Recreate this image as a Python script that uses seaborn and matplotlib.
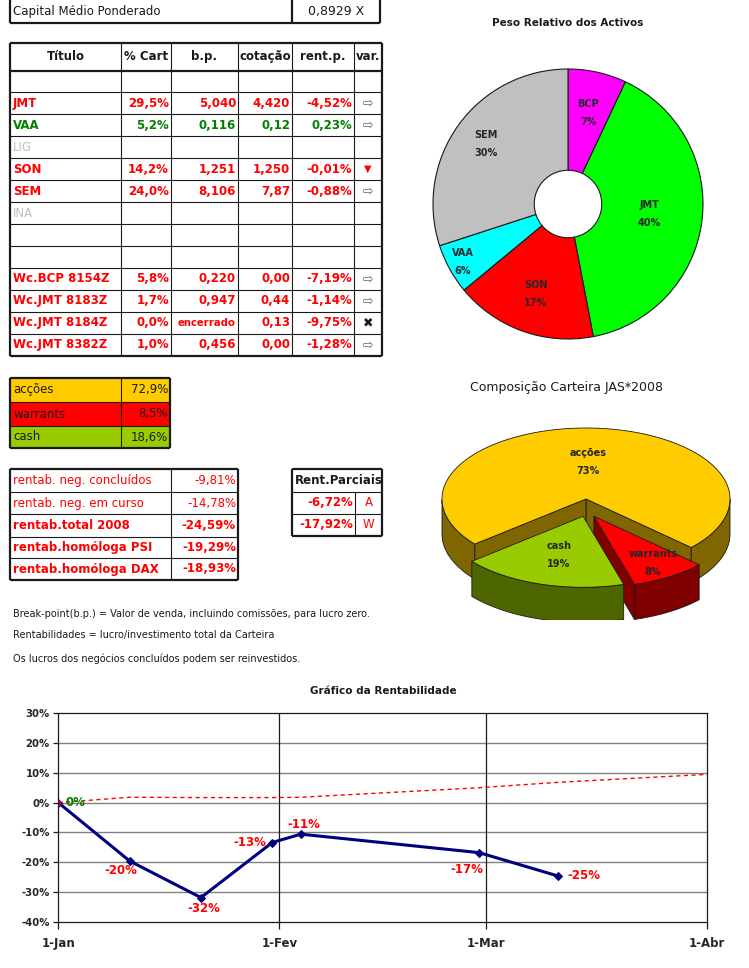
import numpy as np
import pandas as pd
import matplotlib
matplotlib.use("Agg")
import matplotlib.pyplot as plt
from matplotlib.patches import Polygon, Rectangle
import seaborn as sns

# ---- dados da carteira ----
capital_label = "Capital Médio Ponderado"
capital_valor = "0,8929 X"

cabecalho = ["Título", "% Cart", "b.p.", "cotação", "rent.p.", "var."]
titulos = ["", "JMT", "VAA", "LIG", "SON", "SEM", "INA", "", "",
           "Wc.BCP 8154Z", "Wc.JMT 8183Z", "Wc.JMT 8184Z", "Wc.JMT 8382Z"]
pct_cart = ["", "29,5%", "5,2%", "", "14,2%", "24,0%", "", "", "",
            "5,8%", "1,7%", "0,0%", "1,0%"]
break_point = ["", "5,040", "0,116", "", "1,251", "8,106", "", "", "",
               "0,220", "0,947", "encerrado", "0,456"]
cotacao = ["", "4,420", "0,12", "", "1,250", "7,87", "", "", "",
           "0,00", "0,44", "0,13", "0,00"]
rent_p = ["", "-4,52%", "0,23%", "", "-0,01%", "-0,88%", "", "", "",
          "-7,19%", "-1,14%", "-9,75%", "-1,28%"]
variacao = ["", "dir", "dir", "", "desce", "dir", "", "", "",
            "dir", "dir", "fechado", "dir"]
estado = ["", "neg", "pos", "inactivo", "neg", "neg", "inactivo", "", "",
          "neg", "neg", "neg", "neg"]

alocacao_nomes = ["acções", "warrants", "cash"]
alocacao_pct = [72.9, 8.5, 18.6]
alocacao_txt = ["72,9%", "8,5%", "18,6%"]

rentab_nomes = ["rentab. neg. concluídos", "rentab. neg. em curso",
                "rentab.total 2008", "rentab.homóloga PSI", "rentab.homóloga DAX"]
rentab_valores = ["-9,81%", "-14,78%", "-24,59%", "-19,29%", "-18,93%"]
rentab_negrito = [False, False, True, True, True]

parciais_valores = ["-6,72%", "-17,92%"]
parciais_tipo = ["A", "W"]

notas = ["Break-point(b.p.) = Valor de venda, incluindo comissões, para lucro zero.",
         "Rentabilidades = lucro/investimento total da Carteira",
         "Os lucros dos negócios concluídos podem ser reinvestidos."]

activos = ["BCP", "JMT", "SON", "VAA", "SEM"]
activos_peso = [7, 40, 17, 6, 30]

datas = pd.to_datetime(["2008-01-01", "2008-01-11", "2008-01-21", "2008-01-31",
                        "2008-02-04", "2008-02-29", "2008-03-11"])
rentabilidade = [0.0, -0.196, -0.319, -0.134, -0.106, -0.168, -0.246]
datas_ref = pd.to_datetime(["2008-01-01", "2008-01-11", "2008-01-21", "2008-01-31",
                            "2008-02-04", "2008-02-29", "2008-03-11", "2008-04-01"])
referencia = [0.0, 0.018, 0.017, 0.017, 0.018, 0.050, 0.068, 0.095]
meses = pd.to_datetime(["2008-01-01", "2008-02-01", "2008-03-01", "2008-04-01"])
meses_txt = ["1-Jan", "1-Fev", "1-Mar", "1-Abr"]
escala_y = [-0.4, -0.3, -0.2, -0.1, 0.0, 0.1, 0.2, 0.3]

# ---- cores ----
VERMELHO = "#FF0000"
VERDE = "#008000"
CINZA = "#C0C0C0"
cores_estado = {"neg": VERMELHO, "pos": VERDE, "inactivo": CINZA, "": "k"}
cores_alocacao = ["#FFCC00", "#FF0000", "#99CC00"]
lados_alocacao = ["#806600", "#800000", "#4D6600"]
cores_activos = ["#FF00FF", "#00FF00", "#FF0000", "#00FFFF", "#C0C0C0"]

sns.set_theme(style="white")
plt.rcParams["font.family"] = ["DejaVu Sans"]

W, H = 749, 968
fig = plt.figure(figsize=(W / 100, H / 100), dpi=100)


def px_axes(left, top, width, height):
    return fig.add_axes([left / W, 1 - (top + height) / H, width / W, height / H])


# camada de tabelas em coordenadas de pixel
tab = fig.add_axes([0, 0, 1, 1])
tab.set_xlim(0, W)
tab.set_ylim(H, 0)
tab.axis("off")

FINO, GROSSO = 0.8, 1.6


def grelha(xs, ys, grossas_h=(), grossas_v=()):
    for i, y in enumerate(ys):
        lw = GROSSO if i in (0, len(ys) - 1) or i in grossas_h else FINO
        tab.hlines(y, xs[0], xs[-1], color="k", lw=lw)
    for j, x in enumerate(xs):
        lw = GROSSO if j in (0, len(xs) - 1) or j in grossas_v else FINO
        tab.vlines(x, ys[0], ys[-1], color="k", lw=lw)


def texto(x, y, s, ha="left", size=8.5, bold=False, color="k", **kw):
    tab.text(x, y, s, ha=ha, va="center", fontsize=size,
             fontweight="bold" if bold else "normal", color=color, **kw)


# capital médio ponderado
tab.hlines(23, 10, 380, color="k", lw=GROSSO)
tab.vlines([10, 292, 380], 0, 23, color="k", lw=GROSSO)
texto(13, 11.5, capital_label, size=8.5)
texto(336, 11.5, capital_valor, ha="center", size=9)

# tabela principal
col_x = [10, 121, 171, 238, 292, 354, 382]
lin_y = [43] + list(np.linspace(70.5, 355.7, len(titulos) + 1))
grelha(col_x, lin_y, grossas_h=(1,))
for j, h in enumerate(cabecalho):
    texto((col_x[j] + col_x[j + 1]) / 2, (lin_y[0] + lin_y[1]) / 2, h,
          ha="center", bold=True)

simbolos = {"dir": ("⇨", "#606060", 9), "desce": ("▼", VERMELHO, 7),
            "fechado": ("✖", "k", 9)}
for i in range(len(titulos)):
    yc = (lin_y[i + 1] + lin_y[i + 2]) / 2
    cor = cores_estado[estado[i]]
    inactivo = estado[i] == "inactivo"
    texto(13, yc, titulos[i], bold=not inactivo, color=cor)
    for j, col in enumerate([pct_cart, break_point, cotacao, rent_p]):
        s = col[i]
        texto(col_x[j + 2] - 2, yc, s, ha="right", bold=True, color=cor,
              size=7.3 if s == "encerrado" else 8.5)
    if variacao[i]:
        sym, c, sz = simbolos[variacao[i]]
        texto((col_x[5] + col_x[6]) / 2, yc, sym, ha="center", color=c, size=sz,
              bold=variacao[i] == "fechado")

# alocação por classe
aloc_y = [378, 402, 426, 448]
aloc_x = [10, 121, 170]
for i, nome in enumerate(alocacao_nomes):
    tab.add_patch(Rectangle((aloc_x[0], aloc_y[i]), aloc_x[-1] - aloc_x[0],
                            aloc_y[i + 1] - aloc_y[i], color=cores_alocacao[i], lw=0))
    yc = (aloc_y[i] + aloc_y[i + 1]) / 2
    texto(13, yc, nome)
    texto(aloc_x[-1] - 2, yc, alocacao_txt[i], ha="right")
grelha(aloc_x, aloc_y)

# rentabilidades
rent_y = [469, 492, 514, 537, 558, 580]
rent_x = [10, 171, 238]
grelha(rent_x, rent_y)
for i, nome in enumerate(rentab_nomes):
    yc = (rent_y[i] + rent_y[i + 1]) / 2
    texto(13, yc, nome, bold=rentab_negrito[i], color=VERMELHO)
    texto(rent_x[-1] - 2, yc, rentab_valores[i], ha="right",
          bold=rentab_negrito[i], color=VERMELHO)

# rentabilidades parciais
par_y = [469, 492, 514, 536]
par_x = [292, 355, 382]
for i, y in enumerate(par_y):
    tab.hlines(y, par_x[0], par_x[-1], color="k",
               lw=GROSSO if i in (0, len(par_y) - 1) else FINO)
tab.vlines([par_x[0], par_x[-1]], par_y[0], par_y[-1], color="k", lw=GROSSO)
tab.vlines(par_x[1], par_y[1], par_y[-1], color="k", lw=FINO)
texto(295, (par_y[0] + par_y[1]) / 2, "Rent.Parciais", bold=True)
for i, v in enumerate(parciais_valores):
    yc = (par_y[i + 1] + par_y[i + 2]) / 2
    texto(par_x[1] - 2, yc, v, ha="right", bold=True, color=VERMELHO)
    texto((par_x[1] + par_x[2]) / 2, yc, parciais_tipo[i], ha="center", color=VERMELHO)

# notas
for nota, y in zip(notas, [614, 635, 659]):
    texto(13, y, nota, size=7)

# títulos dos gráficos
texto(568, 23, "Peso Relativo dos Activos", ha="center", size=7.5, bold=True)
texto(567, 387, "Composição Carteira JAS*2008", ha="center", size=9)
texto(383, 691, "Gráfico da Rentabilidade", ha="center", size=7.5, bold=True)

# ---- donut: peso relativo dos activos ----
R = 135
ax_d = px_axes(568 - 1.25 * R, 204 - 1.25 * R, 2.5 * R, 2.5 * R)
wedges, _, autot = ax_d.pie(activos_peso, colors=cores_activos, startangle=90,
                            counterclock=False, autopct="%.0f%%", pctdistance=0.7,
                            wedgeprops=dict(width=0.75, edgecolor="k", linewidth=0.8))
dist_rotulo = [0.69, 0.61, 0.71, 0.89, 0.75]
for w, t, nome, d in zip(wedges, autot, activos, dist_rotulo):
    ang = np.radians((w.theta1 + w.theta2) / 2)
    t.set_position((d * np.cos(ang), d * np.sin(ang)))
    t.set_text(f"{nome}\n{t.get_text()}")
    t.set_fontsize(7)
    t.set_fontweight("bold")
    t.set_linespacing(2.0)
ax_d.set_xlim(-1.25, 1.25)
ax_d.set_ylim(-1.25, 1.25)
ax_d.set_aspect("equal")
ax_d.axis("off")

# ---- pizza 3D: composição da carteira ----
PX = 144.0
CX, CY = 586, 499
ax_p = px_axes(405, 405, 344, 215)
ax_p.set_xlim((405 - CX) / PX, (749 - CX) / PX)
ax_p.set_ylim((CY - 620) / PX, (CY - 405) / PX)
ax_p.axis("off")
RY = 71 / PX
DEP = 35 / PX
deslocamento = [(0.0, 0.0), (0.055, -0.12), (-0.02, -0.12)]
dist_p = [0.52, 0.78, 0.57]

inicio = 219.4
frac = np.array(alocacao_pct) / sum(alocacao_pct)
fim = inicio - np.cumsum(frac) * 360
comeco = np.concatenate([[inicio], fim[:-1]])
for k in range(len(alocacao_nomes)):
    a_hi, a_lo = comeco[k], fim[k]
    ox, oy = deslocamento[k]
    kw = dict(edgecolor="k", linewidth=0.6)
    # faces radiais visíveis
    for a, visivel in ((a_lo, np.cos(np.radians(a_lo)) > 0),
                       (a_hi, np.cos(np.radians(a_hi)) < 0)):
        if visivel:
            c, s = np.cos(np.radians(a)), np.sin(np.radians(a))
            ax_p.add_patch(Polygon([(ox, oy), (ox + c, oy + RY * s),
                                    (ox + c, oy + RY * s - DEP), (ox, oy - DEP)],
                                   facecolor=lados_alocacao[k], **kw))
    # parede exterior (frente)
    t = np.radians(np.linspace(a_lo, a_hi, 400))
    idx = np.flatnonzero(np.sin(t) < 0)
    if idx.size:
        for g in np.split(idx, np.flatnonzero(np.diff(idx) > 1) + 1):
            tt = t[g]
            topo = np.column_stack([ox + np.cos(tt), oy + RY * np.sin(tt)])
            base = topo[::-1] - [0, DEP]
            ax_p.add_patch(Polygon(np.vstack([topo, base]),
                                   facecolor=lados_alocacao[k], **kw))
    # face de cima
    tt = np.radians(np.linspace(a_lo, a_hi, 200))
    topo = np.column_stack([ox + np.cos(tt), oy + RY * np.sin(tt)])
    ax_p.add_patch(Polygon(np.vstack([[ox, oy], topo]),
                           facecolor=cores_alocacao[k], **kw))
    meio = np.radians((a_lo + a_hi) / 2)
    ax_p.text(ox + dist_p[k] * np.cos(meio), oy + dist_p[k] * RY * np.sin(meio),
              f"{alocacao_nomes[k]}\n{alocacao_pct[k]:.0f}%", ha="center", va="center",
              fontsize=7, fontweight="bold", linespacing=2.0)

# ---- gráfico da rentabilidade ----
ax = px_axes(58.3, 713.3, 649, 208.4)
df = pd.DataFrame({"data": datas, "rent": rentabilidade})
df_ref = pd.DataFrame({"data": datas_ref, "rent": referencia})
sns.lineplot(data=df_ref, x="data", y="rent", ax=ax, color=VERMELHO, lw=1,
             linestyle=(0, (3, 2.5)), zorder=3)
sns.lineplot(data=df, x="data", y="rent", ax=ax, color="#000080", lw=2.2,
             marker="D", markersize=4, markeredgecolor="#000080", zorder=4)
ax.plot(datas_ref[:1], referencia[:1], "o", ms=3, mfc="none", mec=VERMELHO, zorder=5)

ax.set_xlim(meses[0], meses[-1])
ax.set_ylim(escala_y[0], escala_y[-1])
ax.set_yticks(escala_y)
ax.set_yticklabels([f"{round(v * 100):d}%" for v in escala_y],
                   fontsize=7.3, fontweight="bold")
ax.set_xticks(meses)
ax.set_xticklabels(meses_txt, fontsize=8.5, fontweight="bold")
ax.set_xlabel("")
ax.set_ylabel("")
for v in escala_y[1:-1]:
    ax.axhline(v, color="#808080", lw=1, zorder=1)
for m in meses[1:-1]:
    ax.axvline(m, color="k", lw=0.9, zorder=1)
for s in ax.spines.values():
    s.set_color("k")
    s.set_linewidth(0.9)
ax.tick_params(axis="x", bottom=True, length=5, width=0.9, pad=6, color="k")
ax.tick_params(axis="y", left=True, length=3.5, width=0.9, pad=2.5, color="k")

desloc_rotulo = [(5, 0, "left"), (-6, -7, "center"), (2, -8, "center"),
                 (-4, 0, "right"), (2, 7, "center"), (-9, -12, "center"),
                 (7, 0, "left")]
for d, v, (dx, dy, ha) in zip(datas, rentabilidade, desloc_rotulo):
    ax.annotate(f"{round(v * 100):d}%", (d, v), xytext=(dx, dy),
                textcoords="offset points", ha=ha, va="center", fontsize=8.5,
                fontweight="bold", color=VERDE if v >= 0 else VERMELHO)

fig.savefig("out.png", dpi=100)
